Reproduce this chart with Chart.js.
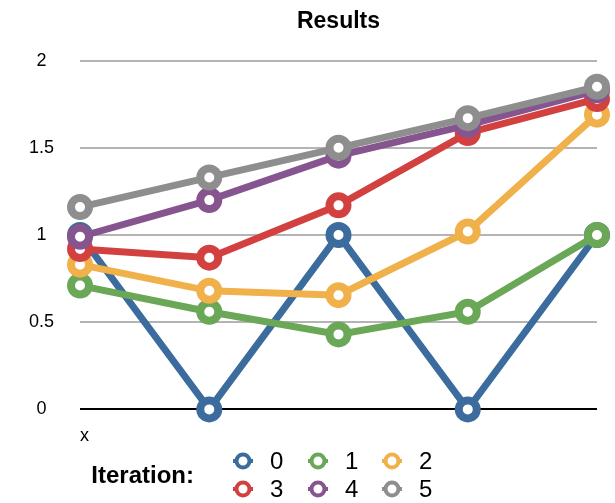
<!DOCTYPE html>
<html>
<head>
<meta charset="utf-8">
<script src="https://cdn.jsdelivr.net/npm/chart.js@4"></script>
<style>
  body { margin: 0; background: #fff; }
  #wrap { width: 615px; height: 503px; }
</style>
</head>
<body>
<div id="wrap"><canvas id="myChart"></canvas></div>
<script>
var categories = ['1', '2', '3', '4', '5'];
var seriesNames = ['0', '1', '2', '3', '4', '5'];
var iter0 = [1, 0, 1, 0, 1];
var iter1 = [0.71, 0.56, 0.43, 0.56, 1.0];
var iter2 = [0.83, 0.68, 0.655, 1.02, 1.69];
var iter3 = [0.92, 0.87, 1.17, 1.585, 1.78];
var iter4 = [0.99, 1.2, 1.455, 1.63, 1.83];
var iter5 = [1.16, 1.33, 1.5, 1.67, 1.85];
var yTicks = [0, 0.5, 1, 1.5, 2];

var colors = ['#3c6b9d', '#6aa757', '#f0b04a', '#d24040', '#865590', '#8e8e8e'];
var allSeries = [iter0, iter1, iter2, iter3, iter4, iter5];
var FONT = "'Liberation Sans', Arial, sans-serif";

var datasets = [];
// draw 5 first so 0 ends up on top, like the reference
for (var i = allSeries.length - 1; i >= 0; i--) {
  datasets.push({
    label: seriesNames[i],
    data: allSeries[i],
    borderColor: colors[i],
    backgroundColor: '#fff',
    borderWidth: 7,
    pointRadius: 9,
    pointHoverRadius: 9,
    pointBorderWidth: 8,
    pointBackgroundColor: '#fff',
    pointBorderColor: colors[i],
    tension: 0,
    clip: false
  });
}

// legend drawn on the canvas: "Iteration:" then a 3x2 grid
var iterationLegend = {
  id: 'iterationLegend',
  afterDraw: function(chart) {
    var ctx = chart.ctx;
    ctx.save();
    ctx.textBaseline = 'middle';
    ctx.fillStyle = '#000';
    ctx.font = 'bold 24px ' + FONT;
    ctx.textAlign = 'right';
    ctx.fillText('Iteration:', 194, 476);
    var colX = [243, 318, 392];
    var rowY = [461, 489];
    ctx.font = '24px ' + FONT;
    ctx.textAlign = 'left';
    for (var k = 0; k < seriesNames.length; k++) {
      var cx = colX[k % 3], cy = rowY[Math.floor(k / 3)];
      ctx.strokeStyle = colors[k];
      ctx.lineWidth = 4;
      ctx.beginPath();
      ctx.moveTo(cx - 10, cy); ctx.lineTo(cx + 10, cy);
      ctx.stroke();
      ctx.beginPath();
      ctx.arc(cx, cy, 6.5, 0, Math.PI * 2);
      ctx.fillStyle = '#fff';
      ctx.fill();
      ctx.stroke();
      ctx.fillStyle = '#000';
      ctx.fillText(seriesNames[k], cx + 27, cy + 1);
    }
    ctx.restore();
  }
};

var chart = new Chart(document.getElementById('myChart'), {
  type: 'line',
  data: { labels: categories, datasets: datasets },
  options: {
    responsive: true,
    maintainAspectRatio: false,
    animation: false,
    layout: { padding: { left: 3, right: 18, top: 0, bottom: 56 } },
    plugins: {
      legend: { display: false },
      tooltip: { enabled: false },
      title: {
        display: true,
        text: 'Results',
        fullSize: false,
        color: '#000',
        font: { family: FONT, size: 23, weight: 'bold' },
        padding: { top: 8, bottom: 25 }
      }
    },
    scales: {
      x: {
        offset: false,
        grid: { display: false },
        border: { display: false },
        ticks: { display: false },
        title: {
          display: true,
          text: 'x',
          align: 'start',
          color: '#000',
          font: { family: FONT, size: 18 },
          padding: { top: 8, bottom: 0 }
        }
      },
      y: {
        min: 0,
        max: 2,
        afterBuildTicks: function(axis) {
          axis.ticks = yTicks.map(function(v) { return { value: v }; });
        },
        border: { display: false },
        grid: {
          drawTicks: false,
          lineWidth: 2,
          color: function(c) { return c.tick && c.tick.value === 0 ? '#000' : '#b4b4b4'; }
        },
        ticks: {
          color: '#000',
          crossAlign: 'center',
          padding: 26,
          font: { family: FONT, size: 18 },
          callback: function(v) { return String(v); }
        }
      }
    }
  },
  plugins: [iterationLegend]
});
</script>
</body>
</html>
